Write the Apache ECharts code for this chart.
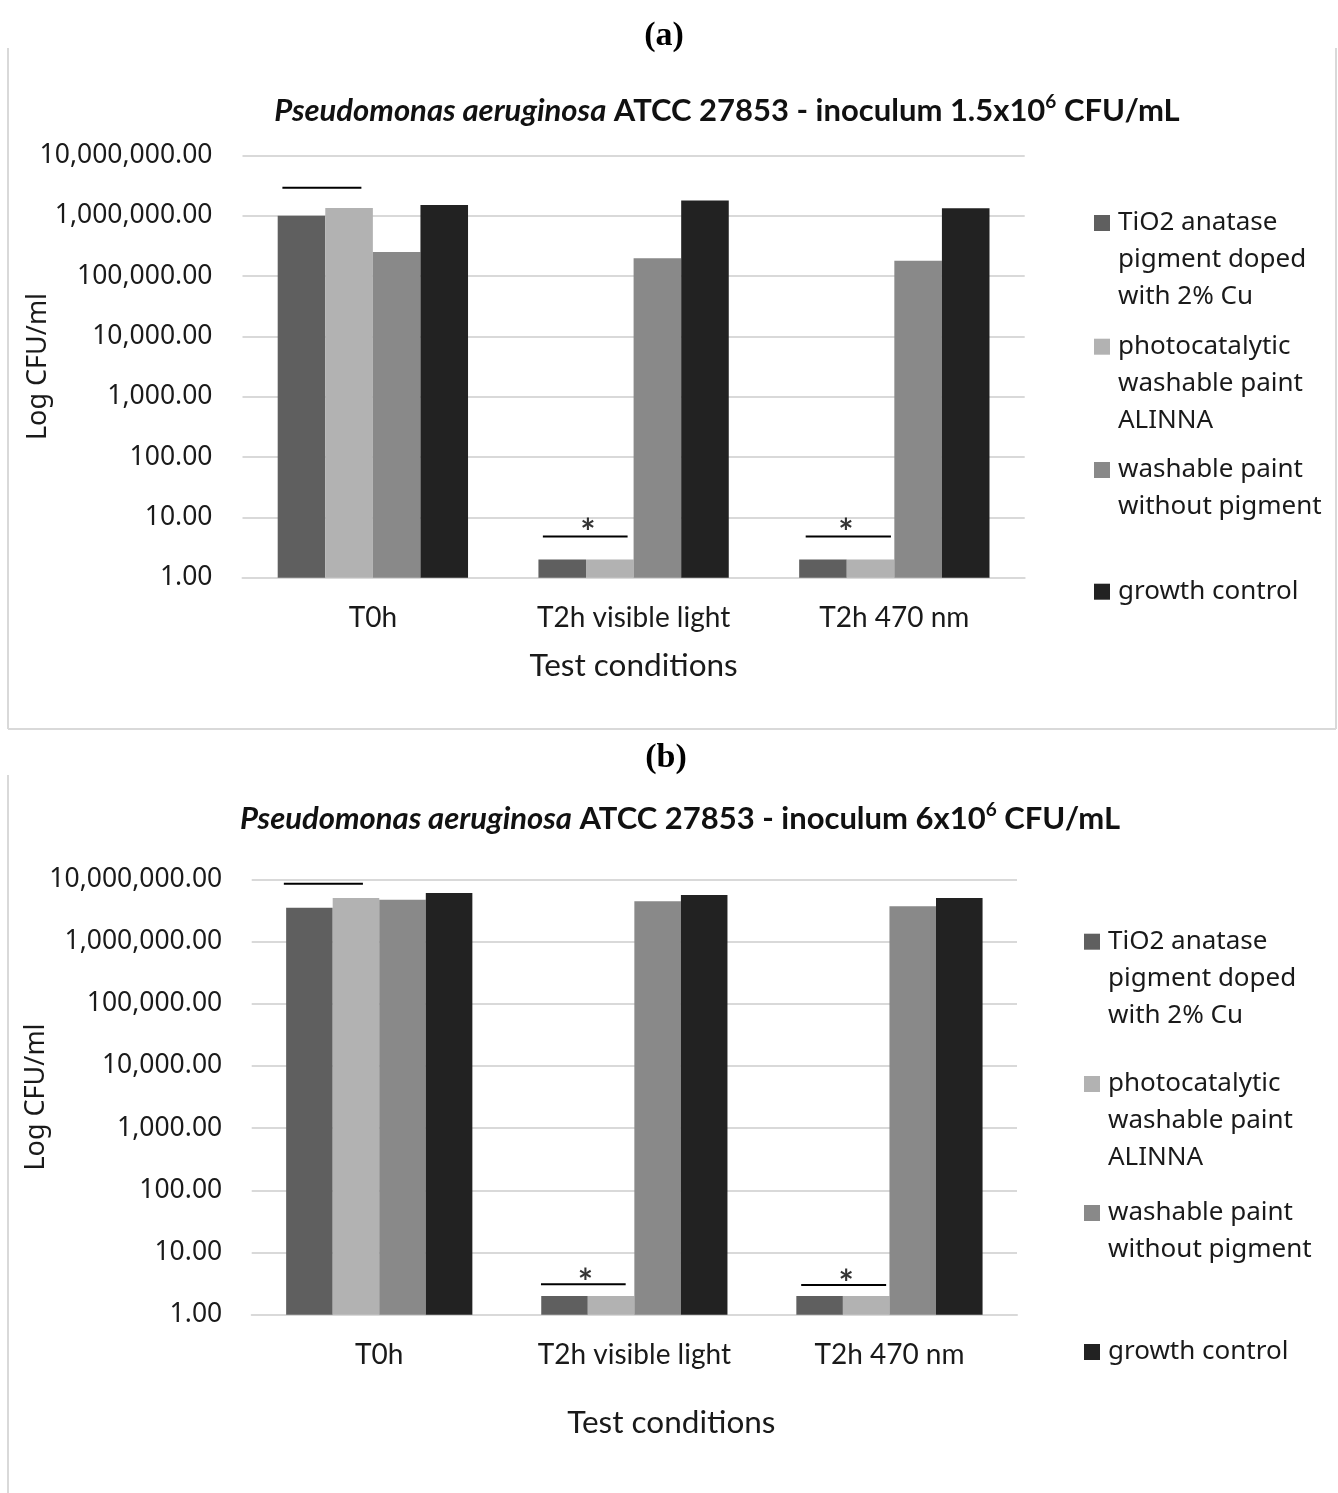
<!DOCTYPE html>
<html>
<head>
<meta charset="utf-8">
<script src="https://cdn.jsdelivr.net/npm/echarts@6/dist/echarts.min.js"></script>
<style>html,body{margin:0;padding:0;background:#fff;}#main{width:1338px;height:1493px;}</style>
</head>
<body>
<div id="main"></div>
<script>
// ---- data ----
const categories = ['T0h', 'T2h visible light', 'T2h 470 nm'];
const seriesNames = [
  'TiO2 anatase pigment doped with 2% Cu',
  'photocatalytic washable paint ALINNA',
  'washable paint without pigment',
  'growth control'
];
const legendLines = [
  ['TiO2 anatase', 'pigment doped', 'with 2% Cu'],
  ['photocatalytic', 'washable paint', 'ALINNA'],
  ['washable paint', 'without pigment'],
  ['growth control']
];
const yTicks = [1, 10, 100, 1000, 10000, 100000, 1000000, 10000000];

// chart (a): inoculum 1.5x10^6 CFU/mL
const aTiO2    = [1000000, 2, 2];
const aAlinna  = [1340000, 2, 2];
const aNoPig   = [250000, 197000, 178000];
const aGrowth  = [1500000, 1780000, 1330000];
// chart (b): inoculum 6x10^6 CFU/mL
const bTiO2    = [3500000, 2, 2];
const bAlinna  = [5000000, 2, 2];
const bNoPig   = [4700000, 4450000, 3700000];
const bGrowth  = [6000000, 5600000, 5000000];

// significance bars: [xStart, xEnd, yLine] in category units (0..3) / CFU
const aSigLines = [[0.153, 0.456, 2900000], [1.152, 1.477, 4.8], [2.160, 2.487, 4.8]];
const aStars    = [[1.325, 7.7], [2.314, 7.7]];
const bSigLines = [[0.126, 0.436, 8500000], [1.134, 1.466, 3.1], [2.154, 2.487, 3.0]];
const bStars    = [[1.308, 4.5], [2.330, 4.4]];

const colors = ['#5f5f5f', '#b2b2b2', '#898989', '#222222'];
const TXT = '#1a1a1a';
const GRID = '#d9d9d9';

const chart = echarts.init(document.getElementById('main'), null, {renderer: 'canvas'});

function fmtNum(v) {
  return Math.round(v).toLocaleString('en-US', {minimumFractionDigits: 2, maximumFractionDigits: 2});
}

const grids = [
  {left: 242.5, top: 155.3, width: 782.2, height: 422.4, containLabel: false, outerBoundsMode: 'none'},
  {left: 251.7, top: 879.3, width: 765.3, height: 435.4, containLabel: false, outerBoundsMode: 'none'}
];
const yNameGap = [188, 199];
const yLabelMargin = [30, 29.5];
const xNameGap = [71, 91];
const xNamePad = [[0, 0, 0, 0], [0, 0, 0, 74]];

const xAxes = [], yAxes = [], series = [];
[0, 1].forEach(function (g) {
  xAxes.push({
    type: 'category', gridIndex: g, data: categories,
    axisLine: {show: true, lineStyle: {color: GRID, width: 2}},
    axisTick: {show: false},
    axisLabel: {color: TXT, fontFamily: 'Lato', fontSize: 28, margin: 24, lineHeight: 32},
    name: 'Test conditions', nameLocation: 'middle', nameGap: xNameGap[g], nameMoveOverlap: false,
    nameTextStyle: {color: TXT, fontFamily: 'Lato', fontSize: 31.5, lineHeight: 34, padding: xNamePad[g]}
  });
  xAxes.push({type: 'value', gridIndex: g, min: 0, max: 3, show: false});
  yAxes.push({
    type: 'log', logBase: 10, gridIndex: g, min: yTicks[0], max: yTicks[yTicks.length - 1],
    axisLine: {show: false}, axisTick: {show: false},
    splitLine: {show: true, lineStyle: {color: GRID, width: 2}},
    axisLabel: {color: TXT, fontFamily: 'Noto Sans', fontSize: 26.5, margin: yLabelMargin[g], formatter: fmtNum},
    name: 'Log CFU/ml', nameLocation: 'middle', nameGap: yNameGap[g], nameMoveOverlap: false,
    nameTextStyle: {color: TXT, fontFamily: 'Noto Sans', fontSize: 27, lineHeight: 32}
  });
});

const dataSets = [[aTiO2, aAlinna, aNoPig, aGrowth], [bTiO2, bAlinna, bNoPig, bGrowth]];
const sigSets = [aSigLines, bSigLines];
const starSets = [aStars, bStars];
const STAR_FS = 36;

[0, 1].forEach(function (g) {
  dataSets[g].forEach(function (vals, i) {
    series.push({
      name: seriesNames[i], type: 'bar', xAxisIndex: g * 2, yAxisIndex: g,
      data: vals, barGap: '0%', barCategoryGap: '27%',
      itemStyle: {color: colors[i]}
    });
  });
  sigSets[g].forEach(function (s, k) {
    series.push({
      name: 'sig' + g + '_' + k, type: 'line', xAxisIndex: g * 2 + 1, yAxisIndex: g,
      data: [[s[0], s[2]], [s[1], s[2]]], symbol: 'none', silent: true,
      lineStyle: {color: '#000', width: 2}
    });
  });
  series.push({
    name: 'star' + g, type: 'scatter', xAxisIndex: g * 2 + 1, yAxisIndex: g,
    data: starSets[g], symbolSize: 1, itemStyle: {color: 'rgba(0,0,0,0)'}, silent: true,
    label: {show: true, formatter: '*', position: 'inside', color: '#000', offset: [0, STAR_FS * 0.26],
      fontFamily: 'Lato', fontWeight: 'bold', fontSize: STAR_FS}
  });
});

// legends: one component per item; leading blank lines put the icon on the first text line
const LH = 36.7;
const legendFirstLine = [[223, 346.7, 470, 591.7], [941.7, 1084, 1213, 1352]];
const legendLeft = [1094, 1084];
const legends = [];
[0, 1].forEach(function (g) {
  legendLines.forEach(function (lines, i) {
    const n = lines.length;
    const txt = '\n'.repeat(n - 1) + lines.join('\n');
    const T = (2 * n - 1) * LH;
    legends.push({
      left: legendLeft[g], top: legendFirstLine[g][i] - T / 2, padding: 0,
      orient: 'vertical', itemWidth: 16, itemHeight: 16, icon: 'rect',
      selectedMode: false,
      data: [{name: seriesNames[i], itemStyle: {color: colors[i]}}],
      formatter: function () { return txt; },
      textStyle: {color: TXT, fontFamily: 'Noto Sans', fontSize: 26, lineHeight: LH,
        padding: [0, 0, 0, 3]}
    });
  });
});

const titleRich = {
  i: {fontStyle: 'italic', fontWeight: 'bold', fontFamily: 'Lato', fontSize: 31, color: '#111', lineHeight: 37},
  n: {fontWeight: 'bold', fontFamily: 'Lato', fontSize: 31, color: '#111', lineHeight: 37},
  s: {fontWeight: 'bold', fontFamily: 'Lato', fontSize: 19, color: '#111', verticalAlign: 'top', lineHeight: 22}
};
const panelRich = {
  p: {fontFamily: 'Liberation Serif', fontSize: 34, color: '#000', lineHeight: 34},
  b: {fontFamily: 'Liberation Serif', fontSize: 34, fontWeight: 'bold', color: '#000', lineHeight: 34}
};

chart.setOption({
  animation: false,
  backgroundColor: '#fff',
  title: [
    {text: '{p|(}{b|a}{p|)}', left: 664, top: 19, textAlign: 'center', padding: 0,
      textStyle: {rich: panelRich}},
    {text: '{p|(}{b|b}{p|)}', left: 666, top: 741, textAlign: 'center', padding: 0,
      textStyle: {rich: panelRich}},
    {text: '{i|Pseudomonas aeruginosa}{n| ATCC 27853 - inoculum 1.5x10}{s|6}{n| CFU/mL}',
      left: 727, top: 92.5, textAlign: 'center', padding: 0, textStyle: {rich: titleRich}},
    {text: '{i|Pseudomonas aeruginosa}{n| ATCC 27853 - inoculum 6x10}{s|6}{n| CFU/mL}',
      left: 680, top: 800.5, textAlign: 'center', padding: 0, textStyle: {rich: titleRich}}
  ],
  legend: legends,
  grid: grids,
  xAxis: xAxes,
  yAxis: yAxes,
  series: series,
  graphic: [
    {type: 'line', shape: {x1: 8, y1: 48, x2: 8, y2: 729}, style: {stroke: GRID, lineWidth: 2}},
    {type: 'line', shape: {x1: 8, y1: 729, x2: 1336, y2: 729}, style: {stroke: GRID, lineWidth: 2}},
    {type: 'line', shape: {x1: 1336, y1: 48, x2: 1336, y2: 729}, style: {stroke: GRID, lineWidth: 2}},
    {type: 'line', shape: {x1: 8, y1: 775, x2: 8, y2: 1493}, style: {stroke: GRID, lineWidth: 2}}
  ]
});
</script>
</body>
</html>
